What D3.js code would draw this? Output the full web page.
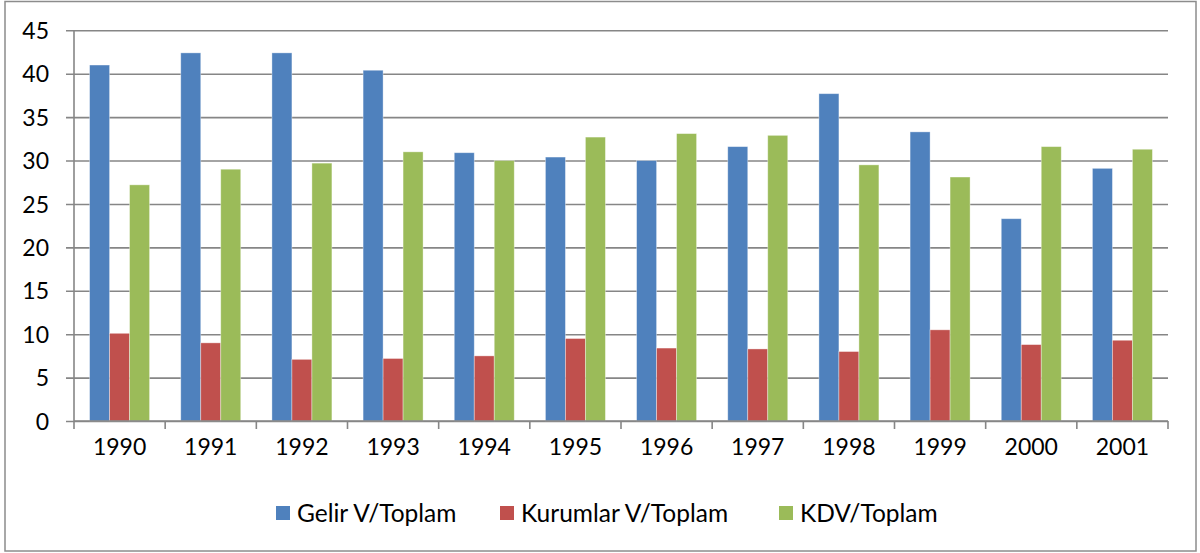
<!DOCTYPE html>
<html>
<head>
<meta charset="utf-8">
<script src="https://cdn.jsdelivr.net/npm/d3@7"></script>
<style>
  body { margin: 0; background: #fff; }
  text { font-family: Lato, "Open Sans", sans-serif; fill: #000; }
</style>
</head>
<body>
<div id="chart"></div>
<script>
// years on the x axis
let years = ["1990", "1991", "1992", "1993", "1994", "1995", "1996", "1997", "1998", "1999", "2000", "2001"];
let seriesNames = ["Gelir V/Toplam", "Kurumlar V/Toplam", "KDV/Toplam"];
let gelir = [41.0, 42.4, 42.4, 40.4, 30.9, 30.4, 30.0, 31.6, 37.7, 33.3, 23.3, 29.1];
let kurumlar = [10.1, 9.0, 7.1, 7.2, 7.5, 9.5, 8.4, 8.3, 8.0, 10.5, 8.8, 9.3];
let kdv = [27.2, 29.0, 29.7, 31.0, 30.0, 32.7, 33.1, 32.9, 29.5, 28.1, 31.6, 31.3];
let yTicks = [0, 5, 10, 15, 20, 25, 30, 35, 40, 45];
let colors = ["#4f81bd", "#c0504d", "#9bbb59"];

let allSeries = [gelir, kurumlar, kdv];

let width = 1200, height = 553;

let svg = d3.select('#chart')
    .append('svg')
    .attr('width', width)
    .attr('height', height);

// outer frame
svg.append('rect')
    .attr('x', 5).attr('y', 1.5)
    .attr('width', 1191).attr('height', 549.5)
    .attr('fill', 'none')
    .attr('stroke', '#8c8c8c')
    .attr('stroke-width', 1.5);

let x0 = d3.scaleBand()
    .domain(years)
    .range([74, 1168])
    .paddingInner(0);

let x1 = d3.scaleBand()
    .domain(seriesNames)
    .range([0, x0.bandwidth()])
    .paddingInner(0)
    .paddingOuter(0.78);

let y = d3.scaleLinear()
    .domain([0, 45])
    .range([421, 30.3]);

// gridlines + left ticks
let yAxis = d3.axisLeft(y)
    .tickValues(yTicks)
    .tickSize(-(1168 - 74))
    .tickPadding(0)
    .tickFormat(d3.format('d'));
let gy = svg.append('g')
    .attr('transform', 'translate(74,0)')
    .call(yAxis);
gy.select('.domain').remove();
gy.selectAll('.tick line')
    .attr('x1', -8)
    .attr('stroke', '#868686')
    .attr('stroke-width', 1.6);
gy.selectAll('.tick text')
    .attr('x', -25)
    .attr('dy', '0.35em')
    .style('font-size', '23px')
    .attr('fill', '#000');

// vertical axis line
svg.append('line')
    .attr('x1', 74).attr('x2', 74)
    .attr('y1', y(45)).attr('y2', y(0))
    .attr('stroke', '#868686')
    .attr('stroke-width', 1.6);

// bars
let rows = [];
years.forEach(function (yr, i) {
    allSeries.forEach(function (s, j) {
        rows.push({ year: yr, name: seriesNames[j], value: s[i], color: colors[j] });
    });
});

svg.append('g')
    .selectAll('rect')
    .data(rows)
    .enter()
    .append('rect')
    .attr('x', d => x0(d.year) + x1(d.name))
    .attr('y', d => y(d.value))
    .attr('width', x1.bandwidth())
    .attr('height', d => y(0) - y(d.value))
    .attr('fill', d => d.color)
    .attr('stroke', 'rgba(255,255,255,0.45)')
    .attr('stroke-width', 0.8);

// x axis with ticks at band boundaries
let xAxis = d3.axisBottom(x0).tickSize(0).tickPadding(18);
let gx = svg.append('g')
    .attr('transform', 'translate(0,' + y(0) + ')')
    .call(xAxis);
gx.select('.domain')
    .attr('stroke', '#868686')
    .attr('stroke-width', 1.6)
    .attr('d', 'M74,0H1168');
gx.selectAll('.tick text')
    .style('font-size', '23px')
    .attr('fill', '#000');

let bounds = years.map(d => x0(d)).concat([1168]);
svg.append('g')
    .selectAll('line')
    .data(bounds)
    .enter()
    .append('line')
    .attr('x1', d => d).attr('x2', d => d)
    .attr('y1', y(0)).attr('y2', y(0) + 8)
    .attr('stroke', '#868686')
    .attr('stroke-width', 1.6);

// legend
let legendX = [276, 500, 779];
let legend = svg.append('g');
seriesNames.forEach(function (n, i) {
    legend.append('rect')
        .attr('x', legendX[i]).attr('y', 506)
        .attr('width', 14).attr('height', 14)
        .attr('fill', colors[i]);
    legend.append('text')
        .attr('x', legendX[i] + 21)
        .attr('y', 513)
        .attr('dy', '0.35em')
        .style('font-size', '24.5px')
        .text(n);
});
</script>
</body>
</html>
